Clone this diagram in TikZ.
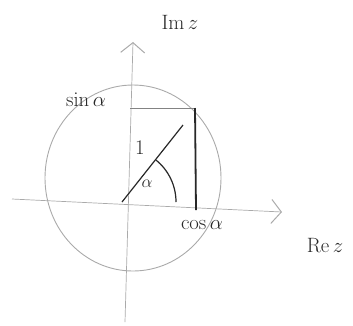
\documentclass[tikz,border=0pt]{standalone}
\usepackage{xcolor}
\definecolor{pencil}{RGB}{40, 40, 40}
\definecolor{faint}{RGB}{170, 170, 170}
\usepackage{tikz}
\usetikzlibrary{arrows.meta, calc}
\usepackage{amsmath}

\begin{document}
\begin{tikzpicture}[x=1pt, y=-1pt,
    axis/.style={faint, line width=0.7pt, -{Straight Barb[length=10pt, width=24pt, line width=1pt]}},
    stroke/.style={pencil, line width=1.2pt},
    lbl/.style={pencil, font=\fontsize{22}{26}\selectfont, inner sep=1pt}
  ]
    \useasboundingbox (0,0) rectangle (353,325);
    % axes
    \coordinate (O) at (122,202);
    \coordinate (imlow) at (125,322);
    \coordinate (imtop) at (133,42);
    \coordinate (relow) at (12,199);
    \coordinate (retop) at (282,212);
    \draw[axis] (imlow) -- (imtop);
    \draw[axis] (relow) -- (retop);
    % unit circle
    \coordinate (ctr) at (133,178);
    \draw[faint, line width=0.9pt] (ctr) ellipse [x radius=88, y radius=93];
    % point on the circle and its projections
    \coordinate (P) at (183,125);
    \coordinate (sinpt) at (130,108);
    \coordinate (corner) at (195,108);
    \coordinate (cospt) at (196,210);
    \draw[stroke] (O) -- (P);
    \draw[faint!70!pencil, line width=1pt] (sinpt) -- (corner);
    \draw[pencil, line width=1.8pt] (corner) -- (cospt);
    \draw[stroke] (O) ++(0:54) arc[start angle=0, end angle=-51, radius=54];
    % labels
    \node[lbl] (imlbl) at (180,22) {$\mathrm{Im}\,z$};
    \node[lbl] (relbl) at (325,245) {$\mathrm{Re}\,z$};
    \node[lbl] (sinlbl) at (86,100) {$\sin\alpha$};
    \node[lbl] (coslbl) at (202,225) {$\cos\alpha$};
    \node[lbl] (onelbl) at (140,148) {$1$};
    \node[lbl, font=\fontsize{18}{20}\selectfont] (alphalbl) at (147,184) {$\alpha$};
  \end{tikzpicture}
\end{document}
